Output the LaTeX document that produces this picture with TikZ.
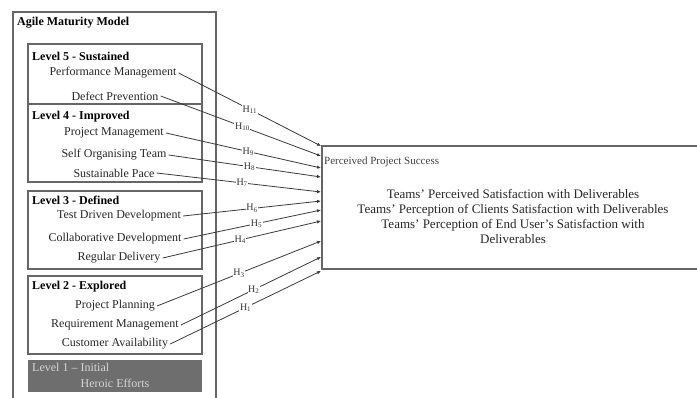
\documentclass[tikz,border=0pt]{standalone}
\usepackage{fontspec}
\setmainfont{Liberation Serif}
\usetikzlibrary{arrows.meta}
\definecolor{boxgray}{HTML}{666666}
\definecolor{linegray}{HTML}{3A3A3A}
\definecolor{levelone}{HTML}{6E6E6E}
\definecolor{leveltext}{HTML}{D6D6D6}
\tikzset{
  frame/.style={draw=boxgray, line width=1.1pt},
  item/.style={font=\fontsize{12}{14}\selectfont, inner sep=2pt, anchor=center, text=black!85},
  heading/.style={font=\fontsize{12}{14}\selectfont\bfseries, inner sep=0pt, anchor=west},
  link/.style={draw=linegray, line width=0.8pt, -{Latex[length=4pt,width=3.5pt]}},
  hyp/.style={fill=white, inner sep=0.6pt, font=\fontsize{10}{11}\selectfont, text=black!80},
  outcome/.style={font=\fontsize{13}{15}\selectfont, align=center, text=black!85}
}
\begin{document}
\begin{tikzpicture}[x=1pt, y=-1pt]
\useasboundingbox (0,0) rectangle (697,397);

% outer model frame, open at the bottom
\draw[frame] (13,400) -- (13,12) -- (216,12) -- (216,400);
\node[heading] (amm) at (17,23) {Agile Maturity Model};

% level boxes
\draw[frame] (28,44) rectangle (202,104);
\draw[frame] (28,104) rectangle (202,182);
\draw[frame, line width=1.6pt] (28,104) -- (202,104);
\draw[frame] (28,191) rectangle (202,269);
\draw[frame] (28,276) rectangle (202,354);
\fill[levelone] (28,360) rectangle (202,392);

\node[heading] (l5) at (32,56) {Level 5 - Sustained};
\node[heading] (l4) at (32,117) {Level 4 - Improved};
\node[heading] (l3) at (32,200) {Level 3 - Defined};
\node[heading] (l2) at (32,287) {Level 2 - Explored};
\node[heading, font=\fontsize{12}{14}\selectfont, text=leveltext] (l1) at (32,367) {Level 1 -- Initial};
\node[item, text=leveltext] (heroic) at (115,383) {Heroic Efforts};

% practices
\node[item] (pm)  at (113,73)  {Performance Management};
\node[item] (dp)  at (115,96)  {Defect Prevention};
\node[item] (prm) at (114,133) {Project Management};
\node[item] (sot) at (114,155) {Self Organising Team};
\node[item] (sp)  at (114,173) {Sustainable Pace};
\node[item] (tdd) at (119,216) {Test Driven Development};
\node[item] (cd)  at (115,239) {Collaborative Development};
\node[item] (rd)  at (119,258) {Regular Delivery};
\node[item] (pp)  at (115,306) {Project Planning};
\node[item] (rm)  at (115,325) {Requirement Management};
\node[item] (ca)  at (115,344) {Customer Availability};

% outcome frame, open to the right
\draw[frame] (700,146) -- (322,146) -- (322,269) -- (700,269);
\node[font=\fontsize{11}{13}\selectfont, anchor=west, inner sep=0pt, text=black!75] (pps) at (324,162) {Perceived Project Success};
\node[outcome] (out) at (513,216) {Teams' Perceived Satisfaction with Deliverables\\
Teams' Perception of Clients Satisfaction with Deliverables\\
Teams' Perception of End User's Satisfaction with\\
Deliverables};

% arrow targets along the outcome frame
\coordinate (t11) at (321,146);
\coordinate (t10) at (321,156);
\coordinate (t9)  at (321,168);
\coordinate (t8)  at (321,177);
\coordinate (t7)  at (321,192);
\coordinate (t6)  at (321,201);
\coordinate (t5)  at (321,210);
\coordinate (t4)  at (321,221);
\coordinate (t3)  at (321,241);
\coordinate (t2)  at (321,257);
\coordinate (t1)  at (321,271);

% hypotheses
\draw[link] (pm.east)  -- node[hyp, pos=0.5]  {H\textsubscript{11}} (t11);
\draw[link] (dp.east)  -- node[hyp, pos=0.51] {H\textsubscript{10}} (t10);
\draw[link] (prm.east) -- node[hyp, pos=0.53] {H\textsubscript{9}} (t9);
\draw[link] (sot.east) -- node[hyp, pos=0.53] {H\textsubscript{8}} (t8);
\draw[link] (sp.east)  -- node[hyp, pos=0.52] {H\textsubscript{7}} (t7);
\draw[link] (tdd.east) -- node[hyp, pos=0.5]  {H\textsubscript{6}} (t6);
\draw[link] (cd.east)  -- node[hyp, pos=0.53] {H\textsubscript{5}} (t5);
\draw[link] (rd.east)  -- node[hyp, pos=0.49] {H\textsubscript{4}} (t4);
\draw[link] (pp.east)  -- node[hyp, pos=0.5]  {H\textsubscript{3}} (t3);
\draw[link] (rm.east)  -- node[hyp, pos=0.52] {H\textsubscript{2}} (t2);
\draw[link] (ca.east)  -- node[hyp, pos=0.5]  {H\textsubscript{1}} (t1);
\end{tikzpicture}
\end{document}
